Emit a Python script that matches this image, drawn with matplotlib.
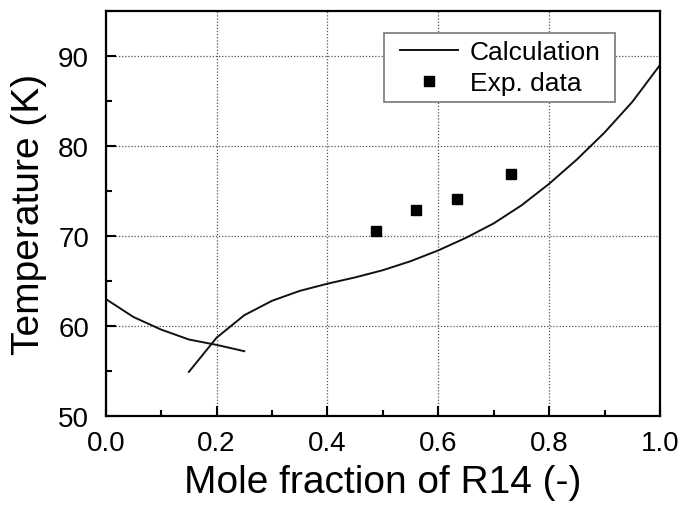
import numpy as np
import matplotlib.pyplot as plt
from matplotlib.patches import Rectangle
from matplotlib.transforms import IdentityTransform
from matplotlib.ticker import MultipleLocator, FormatStrFormatter

plt.rcParams['font.family'] = ['Liberation Sans', 'DejaVu Sans']

# -------------------------------------------------
# Data
# -------------------------------------------------
# calculation, low-x branch (decreasing)
x_calc_left = [0.0, 0.05, 0.10, 0.15, 0.20, 0.25]
t_calc_left = [63.0, 61.0, 59.6, 58.5, 57.9, 57.2]

# calculation, main branch
x_calc_main = [0.15, 0.20, 0.25, 0.30, 0.35, 0.40, 0.45, 0.50, 0.55,
               0.60, 0.65, 0.70, 0.75, 0.80, 0.85, 0.90, 0.95, 1.00]
t_calc_main = [54.9, 58.7, 61.2, 62.8, 63.9, 64.7, 65.4, 66.2, 67.2,
               68.4, 69.8, 71.4, 73.4, 75.8, 78.5, 81.5, 84.9, 89.0]

# experimental points
x_exp = [0.487, 0.559, 0.633, 0.731]
t_exp = [70.6, 72.9, 74.1, 76.9]

# -------------------------------------------------
# Plot
# -------------------------------------------------
fig = plt.figure(figsize=(6.87, 5.06), dpi=100)
ax = fig.add_axes([0.1539, 0.1759, 0.8068, 0.8004])

ax.plot(x_calc_left, t_calc_left, color='#111111', lw=1.4)
ax.plot(x_calc_main, t_calc_main, color='#111111', lw=1.4, label='Calculation')
ax.plot(x_exp, t_exp, 's', color='black', ms=7, ls='none', label='Exp. data')

ax.set_xlim(0.0, 1.0)
ax.set_ylim(50, 95)
ax.xaxis.set_major_locator(MultipleLocator(0.2))
ax.xaxis.set_minor_locator(MultipleLocator(0.1))
ax.xaxis.set_major_formatter(FormatStrFormatter('%.1f'))
ax.yaxis.set_major_locator(MultipleLocator(10))
ax.yaxis.set_minor_locator(MultipleLocator(5))

ax.tick_params(which='both', direction='in', width=1.5, labelsize=20)
ax.tick_params(which='major', length=7)
ax.tick_params(which='minor', length=4)
ax.tick_params(axis='x', pad=10)
ax.tick_params(axis='y', pad=12)

for sp in ax.spines.values():
    sp.set_linewidth(1.6)

ax.grid(True, which='major', ls=(0, (1, 1.5)), color='#555555', lw=0.9)

ax.set_xlabel('Mole fraction of R14 (-)', fontsize=28, labelpad=6)
ax.set_ylabel('Temperature (K)', fontsize=28, labelpad=8)

# legend without its own frame; a wider box is drawn round it below
leg = ax.legend(loc='upper left', bbox_to_anchor=(0.519, 0.945), fontsize=19,
                frameon=False, handlelength=2.2, handletextpad=0.45,
                borderpad=0.25, labelspacing=0.28, borderaxespad=0)
leg.set_zorder(6)

fig.canvas.draw()
bb = leg.get_window_extent()
padx_l, padx_r = 9, 8
frame = Rectangle((bb.x0 - padx_l, bb.y0), bb.width + padx_l + padx_r, bb.height,
                  transform=IdentityTransform(), facecolor='white',
                  edgecolor='#777777', lw=1.2, zorder=5, clip_on=False)
ax.add_patch(frame)

fig.savefig('out.png', dpi=100)
